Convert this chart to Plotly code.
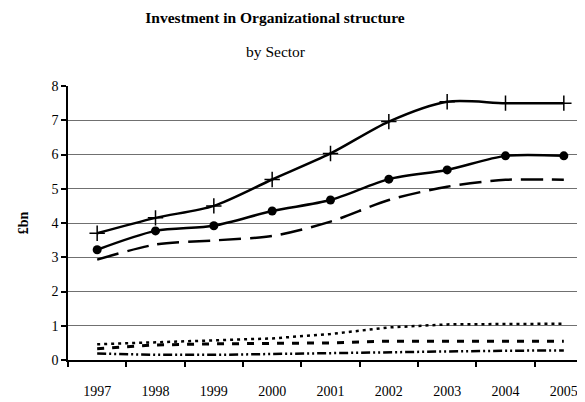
import plotly.graph_objects as go

years = ["1997", "1998", "1999", "2000", "2001", "2002", "2003", "2004", "2005"]
s_plus = [3.70, 4.15, 4.50, 5.27, 6.03, 6.96, 7.54, 7.50, 7.50]
s_dot = [3.22, 3.77, 3.92, 4.35, 4.67, 5.28, 5.55, 5.96, 5.96]
s_longdash = [2.93, 3.37, 3.49, 3.62, 4.04, 4.67, 5.06, 5.26, 5.26]
s_dotted = [0.46, 0.51, 0.56, 0.63, 0.76, 0.95, 1.04, 1.06, 1.06]
s_dashed = [0.33, 0.44, 0.47, 0.48, 0.50, 0.55, 0.55, 0.55, 0.55]
s_dashdot = [0.19, 0.15, 0.15, 0.18, 0.20, 0.23, 0.25, 0.27, 0.28]
y_ticks = [0, 1, 2, 3, 4, 5, 6, 7, 8]

FONT = "Liberation Serif"
W, H = 585, 402
L, R, T, B = 60, 0, 78, 50
PW, PH = W - L - R, H - T - B

fig = go.Figure()

fig.add_trace(go.Scatter(x=years, y=s_plus, mode="lines+markers",
                         line=dict(color="black", width=2.5, shape="spline", smoothing=0.8),
                         marker=dict(symbol="cross-thin", size=11, color="black",
                                     line=dict(color="black", width=1.5))))
fig.add_trace(go.Scatter(x=years, y=s_dot, mode="lines+markers",
                         line=dict(color="black", width=2.5, shape="spline", smoothing=0.8),
                         marker=dict(symbol="circle", size=9, color="black")))
fig.add_trace(go.Scatter(x=years, y=s_longdash, mode="lines",
                         line=dict(color="black", width=2.5, shape="spline", smoothing=0.8,
                                   dash="22px,9px")))
fig.add_trace(go.Scatter(x=years, y=s_dotted, mode="lines",
                         line=dict(color="black", width=2.5, dash="3px,4px")))
fig.add_trace(go.Scatter(x=years, y=s_dashed, mode="lines",
                         line=dict(color="black", width=3, dash="7px,8px")))
fig.add_trace(go.Scatter(x=years, y=s_dashdot, mode="lines",
                         line=dict(color="black", width=2.5, dash="9px,3px,2px,3px,2px,3px")))

fig.update_layout(
    width=W, height=H,
    margin=dict(l=L, r=R, t=T, b=B, autoexpand=False),
    paper_bgcolor="white", plot_bgcolor="white",
    showlegend=False,
    font=dict(family=FONT, size=14, color="black"),
    title=dict(text="<b>Investment in Organizational structure</b>",
               x=267 / W, xanchor="center", xref="container",
               y=1 - 10 / H, yanchor="middle", yref="container",
               font=dict(family=FONT, size=15.5, color="black")),
    annotations=[dict(text="by Sector", xref="paper", yref="paper",
                      x=(268 - L) / PW, y=1 + (T - 43) / PH,
                      xanchor="center", yanchor="middle", showarrow=False,
                      font=dict(family=FONT, size=15.5, color="black"))],
)

fig.update_xaxes(type="category", range=[-0.5, 8.5],
                 tickson="boundaries", ticks="outside", ticklen=5, tickwidth=1.5,
                 tickcolor="black", showline=True, linecolor="black", linewidth=1.5,
                 showgrid=False, zeroline=False, ticklabelstandoff=17,
                 tickfont=dict(family=FONT, size=14))
fig.update_yaxes(range=[0, 8], tickvals=y_ticks, ticks="outside", ticklen=5,
                 tickwidth=1.5, tickcolor="black", showline=True, linecolor="black",
                 linewidth=1.5, showgrid=True, gridcolor="#707070", gridwidth=1.2,
                 zeroline=False, tickfont=dict(family=FONT, size=14),
                 title=dict(text="<b>£bn</b>", font=dict(family=FONT, size=14), standoff=20))

fig.write_html("out.html")
